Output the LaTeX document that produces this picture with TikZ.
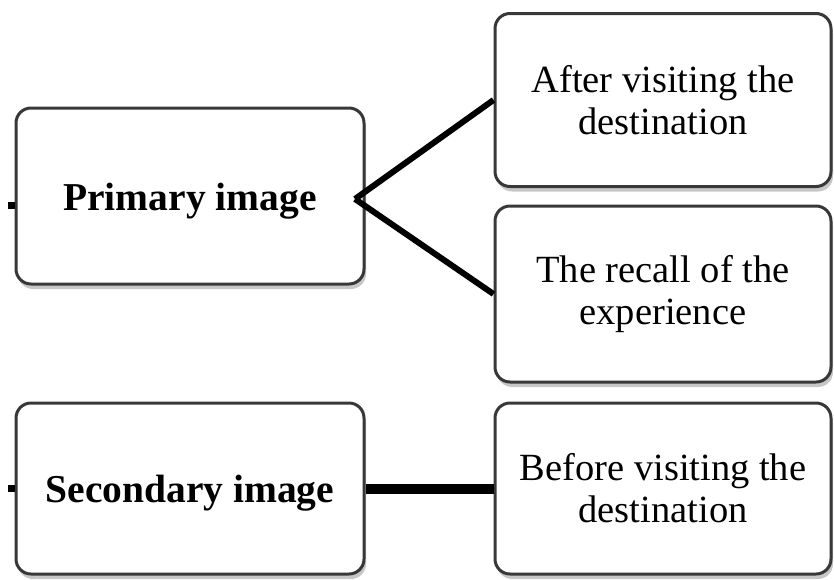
\documentclass[tikz,border=0pt]{standalone}
\usepackage{fontspec}
\setmainfont{Liberation Serif}
\usetikzlibrary{shadows}
\newcommand{\lowered}[1]{\raisebox{-5pt}[\height][\depth]{#1}}
\begin{document}
\begin{tikzpicture}[x=1pt,y=-1pt,
  box/.style={draw=black!78, line width=3pt, rounded corners=15pt, fill=white,
    inner sep=0pt, align=center, font=\fontsize{38.5}{42}\selectfont,
    drop shadow={shadow xshift=2pt, shadow yshift=-5pt, fill=black!40, opacity=0.55}},
  boldbox/.style={box, font=\fontsize{39.5}{42}\selectfont\bfseries},
  link/.style={line width=6pt, line cap=butt},
  thicklink/.style={line width=10pt}]
\useasboundingbox (0,0) rectangle (834,579);

% left column
\node[boldbox, minimum width=348pt, minimum height=176pt] (P) at (190,196) {\lowered{Primary image}};
\node[boldbox, minimum width=348pt, minimum height=171pt] (S) at (190,488.5) {\lowered{Secondary image}};

% right column
\node[box, minimum width=336pt, minimum height=173pt] (A) at (663,100) {After visiting the\\destination};
\node[box, minimum width=336pt, minimum height=176pt] (R) at (663,294) {The recall of the\\experience};
\node[box, minimum width=336pt, minimum height=171pt] (B) at (663,488.5) {Before visiting the\\destination};

% connectors
\coordinate (fork) at (355,199);
\draw[link] (fork) -- (A.west);
\draw[link] (fork) -- (R.west);
\draw[thicklink] (S.east) -- (B.west);

% short stubs entering from the left
\coordinate (pin) at (8,205);
\coordinate (sin) at (8,488.5);
\draw[line width=7pt] (pin) -- (P.west |- pin);
\draw[line width=7pt] (sin) -- (S.west);
\end{tikzpicture}
\end{document}
